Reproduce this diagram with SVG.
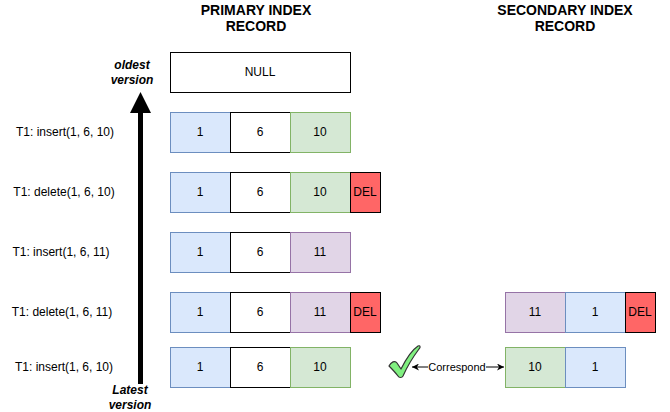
<svg xmlns="http://www.w3.org/2000/svg" width="670" height="412" viewBox="0 0 670 412">
<defs>
<style>
text{font-family:"Liberation Sans",Arial,sans-serif;font-size:12px;fill:#000;text-anchor:middle;dominant-baseline:central}
.title{font-weight:bold;font-size:14px}
.bi{font-weight:bold;font-style:italic;font-size:12px}
.lbl{font-size:12px}
.blue{fill:#dae8fc;stroke:#6c8ebf}
.white{fill:#fff;stroke:#000}
.green{fill:#d5e8d4;stroke:#82b366}
.purple{fill:#e1d5e7;stroke:#9673a6}
.del{fill:#ff6666;stroke:#000}
rect{stroke-width:1}
</style>
<marker id="ah" viewBox="0 0 10 10" refX="10" refY="5" markerWidth="7" markerHeight="7" orient="auto-start-reverse" markerUnits="userSpaceOnUse">
<path d="M0,0 L10,5 L0,10 L3,5 Z" fill="#000"/>
</marker>
</defs>
<rect width="670" height="412" fill="#fff"/>

<g id="titles">
<text class="title" x="256" y="10">PRIMARY INDEX</text>
<text class="title" x="256" y="26">RECORD</text>
<text class="title" x="565" y="10">SECONDARY INDEX</text>
<text class="title" x="565" y="26">RECORD</text>
<text class="bi" x="132" y="65">oldest</text>
<text class="bi" x="132" y="80">version</text>
<text class="bi" x="130" y="390">Latest</text>
<text class="bi" x="130" y="405">version</text>
</g>

<g id="labels">
<text class="lbl" x="65" y="132">T1: insert(1, 6, 10)</text>
<text class="lbl" x="64" y="192">T1: delete(1, 6, 10)</text>
<text class="lbl" x="61" y="252">T1: insert(1, 6, 11)</text>
<text class="lbl" x="62" y="312">T1: delete(1, 6, 11)</text>
<text class="lbl" x="64" y="367">T1: insert(1, 6, 10)</text>
</g>

<g id="null-record">
<rect class="white" x="170.5" y="52.5" width="180" height="40"/>
<text x="260" y="72">NULL</text>
</g>

<g id="row1">
<rect class="blue" x="170.5" y="112.5" width="60" height="40"/><text x="200" y="132">1</text>
<rect class="white" x="230.5" y="112.5" width="60" height="40"/><text x="260" y="132">6</text>
<rect class="green" x="290.5" y="112.5" width="60" height="40"/><text x="320" y="132">10</text>
</g>

<g id="row2">
<rect class="blue" x="170.5" y="172.5" width="60" height="40"/><text x="200" y="192">1</text>
<rect class="white" x="230.5" y="172.5" width="60" height="40"/><text x="260" y="192">6</text>
<rect class="green" x="290.5" y="172.5" width="60" height="40"/><text x="320" y="192">10</text>
<rect class="del" x="350.5" y="172.5" width="30" height="40"/><text x="365" y="192">DEL</text>
</g>

<g id="row3">
<rect class="blue" x="170.5" y="232.5" width="60" height="40"/><text x="200" y="252">1</text>
<rect class="white" x="230.5" y="232.5" width="60" height="40"/><text x="260" y="252">6</text>
<rect class="purple" x="290.5" y="232.5" width="60" height="40"/><text x="320" y="252">11</text>
</g>

<g id="row4">
<rect class="blue" x="170.5" y="292.5" width="60" height="40"/><text x="200" y="312">1</text>
<rect class="white" x="230.5" y="292.5" width="60" height="40"/><text x="260" y="312">6</text>
<rect class="purple" x="290.5" y="292.5" width="60" height="40"/><text x="320" y="312">11</text>
<rect class="del" x="350.5" y="292.5" width="30" height="40"/><text x="365" y="312">DEL</text>
</g>

<g id="row5">
<rect class="blue" x="170.5" y="347.5" width="60" height="40"/><text x="200" y="367">1</text>
<rect class="white" x="230.5" y="347.5" width="60" height="40"/><text x="260" y="367">6</text>
<rect class="green" x="290.5" y="347.5" width="60" height="40"/><text x="320" y="367">10</text>
</g>

<g id="sec-row4">
<rect class="purple" x="505.5" y="292.5" width="60" height="40"/><text x="535" y="312">11</text>
<rect class="blue" x="565.5" y="292.5" width="60" height="40"/><text x="595" y="312">1</text>
<rect class="del" x="625.5" y="292.5" width="30" height="40"/><text x="640" y="312">DEL</text>
</g>

<g id="sec-row5">
<rect class="green" x="505.5" y="347.5" width="60" height="40"/><text x="535" y="367">10</text>
<rect class="blue" x="565.5" y="347.5" width="60" height="40"/><text x="595" y="367">1</text>
</g>

<g id="check">
<path d="M389,366 C391,362 395,360 397,363 L401,369 C406,359 412,350 418,346 C420,345 421,347 419,349 C413,357 407,367 403,376 C402,378 399,378 398,376 C395,372 392,369 389,366 Z" fill="#80f080" stroke="#333" stroke-width="1.2" stroke-linejoin="round"/>
</g>

<g id="connectors">
<line x1="140.5" y1="384" x2="140.5" y2="110" stroke="#000" stroke-width="5"/>
<path d="M140.5,92 L151,113 L130,113 Z" fill="#000"/>
<line x1="412" y1="367" x2="504" y2="367" stroke="#000" stroke-width="1" marker-start="url(#ah)" marker-end="url(#ah)"/>
<rect x="428" y="360" width="58" height="14" fill="#fff"/>
<text x="457" y="367" style="font-size:11px">Correspond</text>
</g>
</svg>
